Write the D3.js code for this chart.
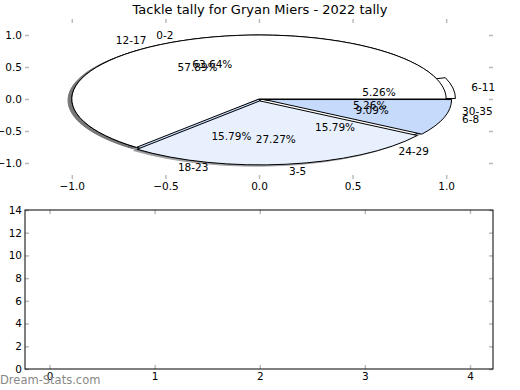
<!DOCTYPE html>
<html>
<head>
<meta charset="utf-8">
<script src="https://cdn.jsdelivr.net/npm/d3@7"></script>
<style>
  body { margin: 0; background: #fff; }
  svg { display: block; font-family: "DejaVu Sans", sans-serif; }
</style>
</head>
<body>
<script>
const width = 520;
const height = 390;

// first pie (drawn on top)
const labelsA = ["0-2", "3-5", "6-8"];
const valuesA = [7, 3, 1];
const explodeA = [0, 0.03, 0.03];
// second pie (underneath)
const labelsB = ["6-11", "12-17", "18-23", "24-29", "30-35"];
const valuesB = [1, 11, 3, 3, 1];
const explodeB = [0.05, 0, 0, 0, 0];
const colors = ["#ffffff", "#e8f0fe", "#c6dafc"];

const pieTicks = [-1.0, -0.5, 0.0, 0.5, 1.0];
const barXTicks = [0, 1, 2, 3, 4];
const barYTicks = [0, 2, 4, 6, 8, 10, 12, 14];

const svg = d3.select("body").append("svg")
  .attr("width", width)
  .attr("height", height);

svg.append("text")
  .attr("x", 260)
  .attr("y", 14)
  .attr("text-anchor", "middle")
  .attr("font-size", 13)
  .text("Tackle tally for Gryan Miers - 2022 tally");

// ---- top axes (pie) ----
const x = d3.scaleLinear().domain([-1.25, 1.25]).range([25, 493]);
const y = d3.scaleLinear().domain([-1.25, 1.25]).range([179, 19]);
const fmt = d3.format(".1f");
const minus = s => s.replace("-", "\u2212");

function styleAxis(g) {
  g.select(".domain").remove();
  g.selectAll(".tick line").attr("stroke", "#bbb").attr("stroke-width", 1.5);
  g.selectAll(".tick text").attr("font-size", 10.5).attr("fill", "#000")
    .attr("font-family", "DejaVu Sans");
}

svg.append("g").attr("transform", `translate(0, ${y(-1.25)})`)
  .call(d3.axisBottom(x).tickValues(pieTicks).tickFormat(d => minus(fmt(d)))
    .tickSizeInner(-4).tickSizeOuter(0).tickPadding(4))
  .call(styleAxis);
svg.append("g").attr("transform", `translate(0, ${y(1.25)})`)
  .call(d3.axisTop(x).tickValues(pieTicks).tickFormat("").tickSizeInner(-4).tickSizeOuter(0))
  .call(styleAxis);
svg.append("g").attr("transform", `translate(${x(-1.25)}, 0)`)
  .call(d3.axisLeft(y).tickValues(pieTicks).tickFormat(d => minus(fmt(d)))
    .tickSizeInner(-4).tickSizeOuter(0).tickPadding(3))
  .call(styleAxis);
svg.append("g").attr("transform", `translate(${x(1.25)}, 0)`)
  .call(d3.axisRight(y).tickValues(pieTicks).tickFormat("").tickSizeInner(-4).tickSizeOuter(0))
  .call(styleAxis);

const rx = x(1) - x(0), ry = y(0) - y(1);

// matplotlib style: start at 3 o'clock, go counterclockwise
const pie = d3.pie().sort(null)
  .startAngle(Math.PI / 2)
  .endAngle(Math.PI / 2 - 2 * Math.PI);
const arc = d3.arc().innerRadius(0).outerRadius(rx);

function build(values, labels, explode) {
  const total = d3.sum(values);
  return pie(values).map(function(d, i) {
    const theta = Math.PI / 2 - (d.startAngle + d.endAngle) / 2;
    return {
      arc: d,
      theta: theta,
      ox: explode[i] * Math.cos(theta),
      oy: explode[i] * Math.sin(theta),
      color: colors[i % colors.length],
      label: labels[i],
      pct: (values[i] / total * 100).toFixed(2) + "%"
    };
  });
}

const wedgesA = build(valuesA, labelsA, explodeA);
const wedgesB = build(valuesB, labelsB, explodeB);

function shade(c) {
  const r = d3.rgb(c);
  return d3.rgb(r.r * 0.3, r.g * 0.3, r.b * 0.3).toString();
}

function drawShadows(wedges) {
  svg.append("g").selectAll("path")
    .data(wedges)
    .enter()
    .append("path")
    .attr("transform", function(w) {
      return `translate(${x(w.ox - 0.02)}, ${y(w.oy - 0.02)}) scale(1, ${ry / rx})`;
    })
    .attr("d", w => arc(w.arc))
    .attr("fill", w => shade(w.color))
    .attr("stroke", w => shade(w.color))
    .attr("vector-effect", "non-scaling-stroke")
    .attr("opacity", 0.5);
}

function drawWedges(wedges) {
  svg.append("g").selectAll("path")
    .data(wedges)
    .enter()
    .append("path")
    .attr("transform", function(w) {
      return `translate(${x(w.ox)}, ${y(w.oy)}) scale(1, ${ry / rx})`;
    })
    .attr("d", w => arc(w.arc))
    .attr("fill", w => w.color)
    .attr("stroke", "#000")
    .attr("stroke-width", 1)
    .attr("vector-effect", "non-scaling-stroke");
}

function drawTexts(wedges) {
  const g = svg.append("g").attr("font-size", 10.5);
  g.selectAll(".lbl")
    .data(wedges)
    .enter()
    .append("text")
    .attr("x", w => x(w.ox + 1.1 * Math.cos(w.theta)))
    .attr("y", w => y(w.oy + 1.1 * Math.sin(w.theta)))
    .attr("text-anchor", w => Math.cos(w.theta) > 0 ? "start" : "end")
    .attr("dominant-baseline", "central")
    .text(w => w.label);
  g.selectAll(".pct")
    .data(wedges)
    .enter()
    .append("text")
    .attr("x", w => x(w.ox + 0.6 * Math.cos(w.theta)))
    .attr("y", w => y(w.oy + 0.6 * Math.sin(w.theta)))
    .attr("text-anchor", "middle")
    .attr("dominant-baseline", "central")
    .text(w => w.pct);
}

drawShadows(wedgesB);
drawShadows(wedgesA);
drawWedges(wedgesB);
drawWedges(wedgesA);
drawTexts(wedgesB);
drawTexts(wedgesA);

// ---- bottom axes (empty bar chart) ----
const bx = d3.scaleLinear().domain([-0.233, 4.219]).range([25, 493]);
const by = d3.scaleLinear().domain([0, 14]).range([369, 210]);

svg.append("g").attr("transform", `translate(0, ${by(0)})`)
  .call(d3.axisBottom(bx).tickValues(barXTicks).tickFormat(d3.format("d"))
    .tickSizeInner(-4).tickSizeOuter(0).tickPadding(4))
  .call(styleAxis);
svg.append("g").attr("transform", `translate(0, ${by(14)})`)
  .call(d3.axisTop(bx).tickValues(barXTicks).tickFormat("").tickSizeInner(-4).tickSizeOuter(0))
  .call(styleAxis);
svg.append("g").attr("transform", `translate(${bx.range()[0]}, 0)`)
  .call(d3.axisLeft(by).tickValues(barYTicks).tickFormat(d3.format("d"))
    .tickSizeInner(-4).tickSizeOuter(0).tickPadding(3))
  .call(styleAxis);
svg.append("g").attr("transform", `translate(${bx.range()[1]}, 0)`)
  .call(d3.axisRight(by).tickValues(barYTicks).tickFormat("").tickSizeInner(-4).tickSizeOuter(0))
  .call(styleAxis);

svg.append("rect")
  .attr("x", bx.range()[0])
  .attr("y", by(14))
  .attr("width", bx.range()[1] - bx.range()[0])
  .attr("height", by(0) - by(14))
  .attr("fill", "none")
  .attr("stroke", "#000")
  .attr("stroke-width", 1);

svg.append("text")
  .attr("x", 0)
  .attr("y", 384)
  .attr("font-size", 11.5)
  .attr("fill", "#888")
  .text("Dream-Stats.com");
</script>
</body>
</html>
